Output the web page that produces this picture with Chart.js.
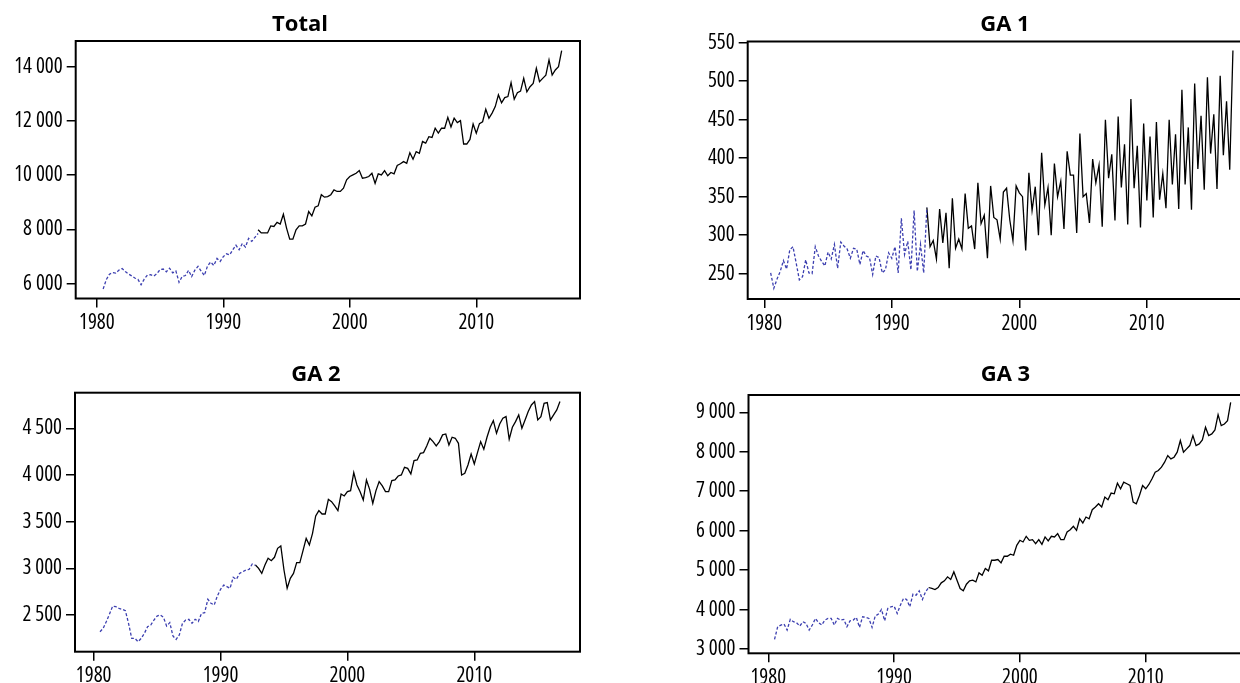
<!DOCTYPE html>
<html>
<head>
<meta charset="utf-8">
<script src="https://cdn.jsdelivr.net/npm/chart.js@4.4.1/dist/chart.umd.min.js"></script>
<style>
  html, body { margin: 0; padding: 0; background: #fff; width: 1240px; height: 683px; overflow: hidden; position: relative; }
  canvas { position: absolute; }
</style>
</head>
<body>
<canvas id="panelTotal"></canvas>
<canvas id="panelGA1"></canvas>
<canvas id="panelGA2"></canvas>
<canvas id="panelGA3"></canvas>
<script>
// Quarterly series: back-calculated part (dashed) and observed part (solid)
const quarterStep = 0.25;
const backcastStart = 1980.5;   // first quarter of the back-calculated part
const observedStart = 1992.75;  // first quarter of the observed part

const yearTicks = [1980, 1990, 2000, 2010];
const totalTicks = [6000, 8000, 10000, 12000, 14000];
const ga1Ticks = [250, 300, 350, 400, 450, 500, 550];
const ga2Ticks = [2500, 3000, 3500, 4000, 4500];
const ga3Ticks = [3000, 4000, 5000, 6000, 7000, 8000, 9000];

const totalBackcast = [
  5805, 6150, 6350, 6410, 6390, 6500, 6560, 6450, 6360, 6290,
  6210, 6160, 5960, 6170, 6320, 6330, 6280, 6370, 6520, 6540,
  6440, 6570, 6400, 6470, 6050, 6270, 6300, 6490, 6260, 6500,
  6640, 6460, 6300, 6650, 6800, 6670, 6930, 6820, 7000, 7100,
  7060, 7250, 7420, 7250, 7480, 7350, 7670, 7560, 7710, 7850
];
const totalObserved = [
  7990, 7870, 7870, 7870, 8130, 8110, 8260, 8200, 8560, 8050,
  7640, 7640, 7990, 8130, 8130, 8200, 8660, 8500, 8820, 8870,
  9280, 9190, 9210, 9280, 9460, 9400, 9400, 9520, 9830, 9950,
  10010, 10070, 10170, 9890, 9910, 9950, 10070, 9700, 10050, 10010,
  10170, 9980, 10100, 10050, 10360, 10420, 10500, 10440, 10830, 10590,
  10870, 10810, 11240, 11180, 11420, 11390, 11730, 11550, 11730, 11730,
  12130, 11780, 12100, 11940, 12010, 11150, 11150, 11320, 11890, 11550,
  11900, 11970, 12430, 12100, 12290, 12530, 12960, 12670, 12860, 12900,
  13410, 12800, 13040, 13100, 13570, 13070, 13260, 13380, 13940, 13450,
  13570, 13690, 14250, 13690, 13880, 14000, 14590
];

const ga1Backcast = [
  251, 231, 243, 253, 267, 256, 281, 285, 264, 242,
  246, 268, 251, 250, 285, 273, 266, 260, 278, 269,
  288, 257, 291, 286, 282, 270, 283, 282, 262, 280,
  273, 271, 249, 273, 271, 251, 255, 277, 270, 285,
  251, 322, 275, 292, 255, 332, 253, 288, 251, 336
];
const ga1Observed = [
  336, 285, 293, 269, 334, 290, 329, 257, 348, 283,
  295, 282, 354, 309, 312, 282, 368, 315, 326, 270,
  364, 323, 320, 295, 356, 361, 320, 293, 364, 355,
  350, 280, 381, 332, 363, 300, 407, 339, 362, 300,
  393, 350, 370, 308, 409, 378, 378, 303, 432, 350,
  354, 316, 399, 368, 391, 311, 450, 374, 405, 319,
  454, 362, 418, 314, 477, 361, 416, 310, 445, 345,
  428, 323, 447, 346, 380, 335, 450, 366, 431, 334,
  489, 366, 440, 333, 497, 386, 455, 359, 505, 406,
  457, 360, 507, 404, 474, 385, 540
];

const ga2Backcast = [
  2321, 2357, 2430, 2511, 2596, 2589, 2571, 2561, 2546, 2411,
  2250, 2250, 2214, 2250, 2304, 2375, 2393, 2446, 2489, 2500,
  2475, 2382, 2418, 2275, 2239, 2286, 2411, 2446, 2454, 2411,
  2454, 2430, 2518, 2525, 2668, 2625, 2607, 2704, 2775, 2821,
  2804, 2786, 2904, 2882, 2946, 2964, 2982, 2989, 3046, 3032
];
const ga2Observed = [
  3036, 3000, 2946, 3036, 3107, 3082, 3118, 3214, 3239, 2982,
  2786, 2893, 2946, 3061, 3061, 3189, 3321, 3250, 3375, 3561,
  3618, 3582, 3582, 3739, 3714, 3668, 3618, 3796, 3775, 3821,
  3832, 4025, 3893, 3821, 3732, 3946, 3846, 3696, 3832, 3929,
  3882, 3821, 3821, 3939, 3946, 3989, 4000, 4082, 4071, 4011,
  4154, 4161, 4232, 4239, 4311, 4393, 4357, 4311, 4357, 4429,
  4439, 4321, 4404, 4393, 4339, 4000, 4018, 4107, 4225, 4118,
  4239, 4357, 4275, 4404, 4511, 4582, 4446, 4546, 4607, 4625,
  4382, 4511, 4571, 4643, 4500, 4589, 4679, 4750, 4786, 4589,
  4625, 4768, 4775, 4589, 4643, 4696, 4786
];

const ga3Backcast = [
  3244, 3565, 3607, 3632, 3480, 3750, 3691, 3666, 3581, 3691,
  3649, 3480, 3607, 3775, 3666, 3607, 3733, 3775, 3775, 3607,
  3775, 3733, 3750, 3565, 3716, 3733, 3800, 3548, 3817, 3800,
  3775, 3548, 3834, 3885, 4003, 3716, 4028, 4070, 4087, 3902,
  4112, 4281, 4256, 4070, 4390, 4365, 4475, 4256, 4449, 4559
];
const ga3Observed = [
  4559, 4534, 4508, 4559, 4677, 4727, 4829, 4761, 4955, 4744,
  4534, 4475, 4643, 4727, 4744, 4702, 4930, 4871, 5039, 4980,
  5250, 5250, 5267, 5183, 5351, 5351, 5402, 5376, 5629, 5756,
  5713, 5857, 5756, 5772, 5671, 5772, 5654, 5840, 5739, 5857,
  5840, 5924, 5772, 5772, 5966, 6025, 6109, 6008, 6303, 6194,
  6345, 6303, 6531, 6598, 6682, 6598, 6851, 6784, 6952, 6935,
  7205, 7062, 7230, 7188, 7146, 6725, 6682, 6893, 7146, 7062,
  7171, 7315, 7483, 7525, 7609, 7736, 7905, 7821, 7862, 7989,
  8284, 7989, 8073, 8157, 8410, 8157, 8199, 8300, 8621, 8410,
  8452, 8553, 8941, 8662, 8705, 8789, 9253
];

// ---- helpers ----
const toPoints = (values, start) => values.map((v, i) => ({ x: start + i * quarterStep, y: v }));
const withSpaces = v => String(v).replace(/\B(?=(\d{3})+(?!\d))/g, ' ');

// condensed face for the axis numbers
const tickFont = { family: "'Open Sans', 'Roboto Condensed', sans-serif", weight: 'condensed', size: 21 };
const titleFontString = "bold 22px 'Open Sans', 'Liberation Sans', sans-serif";

// closed frame around the plotting area
const framePlugin = {
  id: 'frame',
  afterDatasetsDraw(chart) {
    const { ctx, chartArea: a } = chart;
    ctx.save();
    ctx.strokeStyle = '#000';
    ctx.lineWidth = 2;
    ctx.strokeRect(a.left, a.top, a.right - a.left, a.bottom - a.top);
    ctx.restore();
  }
};

// panel heading, centred on a given x with its baseline at a given y
const panelTitlePlugin = {
  id: 'panelTitle',
  afterDraw(chart, args, opts) {
    const { ctx } = chart;
    ctx.save();
    ctx.font = titleFontString;
    ctx.fillStyle = '#000';
    ctx.textAlign = 'center';
    ctx.textBaseline = 'alphabetic';
    ctx.fillText(opts.text, opts.x, opts.baseline);
    ctx.restore();
  }
};

function makePanel(cfg) {
  const canvas = document.getElementById(cfg.id);
  canvas.width = cfg.canvas.w;
  canvas.height = cfg.canvas.h;
  canvas.style.left = cfg.canvas.x + 'px';
  canvas.style.top = cfg.canvas.y + 'px';
  canvas.style.width = cfg.canvas.w + 'px';
  canvas.style.height = cfg.canvas.h + 'px';

  new Chart(canvas, {
    type: 'line',
    data: {
      datasets: [
        {
          data: toPoints(cfg.backcast, backcastStart),
          borderColor: '#3c3fb0',
          borderWidth: 1.3,
          borderDash: [3, 2],
          pointRadius: 0,
          fill: false,
          tension: 0
        },
        {
          data: toPoints(cfg.observed, observedStart),
          borderColor: '#000',
          borderWidth: 1.3,
          pointRadius: 0,
          fill: false,
          tension: 0
        }
      ]
    },
    options: {
      responsive: false,
      animation: false,
      devicePixelRatio: 1,
      layout: { padding: cfg.padding },
      plugins: {
        legend: { display: false },
        tooltip: { enabled: false },
        title: { display: false },
        panelTitle: cfg.heading
      },
      scales: {
        x: {
          type: 'linear',
          min: cfg.xMin,
          max: cfg.xMax,
          afterFit: s => { s.height = cfg.xHeight; },
          afterBuildTicks: s => { s.ticks = yearTicks.map(v => ({ value: v })); },
          grid: { drawOnChartArea: false, drawTicks: true, tickLength: 9, color: '#000', lineWidth: 1.5 },
          border: { display: false },
          ticks: { color: '#000', font: tickFont, padding: 3, maxRotation: 0, autoSkip: false, callback: v => String(v) }
        },
        y: {
          type: 'linear',
          min: cfg.yMin,
          max: cfg.yMax,
          afterFit: s => { s.width = cfg.yWidth; },
          afterBuildTicks: s => { s.ticks = cfg.yTicks.map(v => ({ value: v })); },
          grid: { drawOnChartArea: false, drawTicks: true, tickLength: 9, color: '#000', lineWidth: 1.5 },
          border: { display: false },
          ticks: { color: '#000', font: tickFont, padding: 4, autoSkip: false, callback: v => withSpaces(v) }
        }
      }
    },
    plugins: [framePlugin, panelTitlePlugin]
  });
}

makePanel({
  id: 'panelTotal',
  heading: { text: 'Total', x: 300, baseline: 30.7 },
  backcast: totalBackcast, observed: totalObserved, yTicks: totalTicks,
  canvas: { x: 0, y: 0, w: 620, h: 341 },
  padding: { left: 0, right: 40, top: 41, bottom: 0 },
  xHeight: 42.5, yWidth: 75.7,
  xMin: 1978.33, xMax: 2018.2, yMin: 5454, yMax: 14947
});

makePanel({
  id: 'panelGA1',
  heading: { text: 'GA 1', x: 345, baseline: 30.7 },
  backcast: ga1Backcast, observed: ga1Observed, yTicks: ga1Ticks,
  canvas: { x: 660, y: 0, w: 620, h: 341 },
  padding: { left: 0, right: 18, top: 41.5, bottom: 0 },
  xHeight: 42, yWidth: 87.7,
  xMin: 1978.70, xMax: 2019.03, yMin: 217.1, yMax: 551.6
});

makePanel({
  id: 'panelGA2',
  heading: { text: 'GA 2', x: 316, baseline: 39.7 },
  backcast: ga2Backcast, observed: ga2Observed, yTicks: ga2Ticks,
  canvas: { x: 0, y: 341, w: 620, h: 360 },
  padding: { left: 0, right: 40, top: 51.7, bottom: 0 },
  xHeight: 49.3, yWidth: 75,
  xMin: 1978.53, xMax: 2018.33, yMin: 2107, yMax: 4881
});

makePanel({
  id: 'panelGA3',
  heading: { text: 'GA 3', x: 345.4, baseline: 39.7 },
  backcast: ga3Backcast, observed: ga3Observed, yTicks: ga3Ticks,
  canvas: { x: 660, y: 341, w: 620, h: 360 },
  padding: { left: 0, right: 18, top: 54, bottom: 0 },
  xHeight: 47.7, yWidth: 88.5,
  xMin: 1978.43, xMax: 2019.24, yMin: 2891, yMax: 9439
});
</script>
</body>
</html>
